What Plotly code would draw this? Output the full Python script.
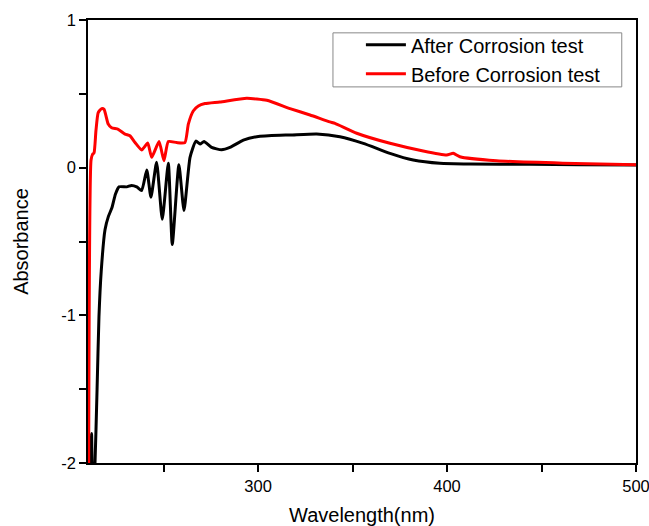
import plotly.graph_objects as go

after_x = [211.2, 211.9, 212.5, 213.6, 214.8, 215.8, 217.0, 219.0, 220.8, 222.7, 224.5, 226.4,
           230.5, 233.1, 235.8, 238.4, 241.1, 243.3, 246.3, 249.3, 252.5, 254.6, 258.1, 260.8,
           264.0, 267.1, 269.3, 271.4, 275.4, 280.7, 285.1, 292.2, 299.3, 311.6, 316.9,
           331.0, 343.3, 355.7, 369.8, 382.1, 396.2, 412.0, 443.9, 470.0, 500.0]
after_y = [-2.3, -1.8, -2.3, -2.05, -1.50, -1.01, -0.70, -0.42, -0.33, -0.27, -0.18, -0.13,
           -0.13, -0.12, -0.13, -0.155, -0.016, -0.20, 0.036, -0.35, 0.03, -0.52, 0.02, -0.29,
           0.07, 0.18, 0.16, 0.177, 0.137, 0.121, 0.137, 0.187, 0.21, 0.22, 0.221,
           0.228, 0.21, 0.165, 0.097, 0.052, 0.03, 0.025, 0.023, 0.02, 0.018]

before_x = [210.3, 211.6, 212.4, 213.2, 214.2, 215.4, 217.2, 218.5, 220.7, 222.5, 226.0, 229.6,
            232.2, 234.9, 238.4, 241.6, 243.7, 247.6, 250.2, 252.5, 256.9, 261.3, 263.1, 265.7,
            268.4, 271.9, 279.8, 294.0, 304.6, 316.9, 327.5, 338.0, 340.7, 352.2, 369.8, 387.4,
            399.8, 403.3, 406.8, 426.2, 461.3, 500.0]
before_y = [-2.3, 0.05, 0.09, 0.10, 0.25, 0.373, 0.40, 0.395, 0.295, 0.27, 0.26, 0.227,
            0.216, 0.17, 0.12, 0.167, 0.07, 0.177, 0.047, 0.177, 0.17, 0.17, 0.295, 0.384,
            0.418, 0.434, 0.445, 0.47, 0.456, 0.40, 0.357, 0.31, 0.30, 0.233, 0.165, 0.113,
            0.086, 0.097, 0.074, 0.047, 0.03, 0.02]

x_ticks = [300, 400, 500]
y_ticks = [-2, -1, 0, 1]

FONT = "Liberation Sans, Arial, sans-serif"

fig = go.Figure()
fig.add_trace(go.Scatter(x=after_x, y=after_y, mode="lines", name="After Corrosion test",
                         line=dict(color="black", width=3, shape="spline", smoothing=0.5)))
fig.add_trace(go.Scatter(x=before_x, y=before_y, mode="lines", name="Before Corrosion test",
                         line=dict(color="#ff0000", width=3, shape="spline", smoothing=0.5)))

axis_common = dict(showgrid=False, zeroline=False, showline=True, linecolor="black", linewidth=1.5,
                   mirror=True, ticks="outside", ticklen=7, tickwidth=1.5, tickcolor="black",
                   automargin=False, ticklabeloverflow="allow",
                   tickfont=dict(family=FONT, size=16.5, color="black"))

fig.update_xaxes(range=[210, 500], tickvals=x_ticks, ticktext=[str(v) for v in x_ticks],
                 minor=dict(dtick=50, tick0=0, ticks="outside", ticklen=7, tickwidth=1.5, tickcolor="black"),
                 title=dict(text="Wavelength(nm)", font=dict(family=FONT, size=20, color="black"), standoff=22),
                 **axis_common)
fig.update_yaxes(range=[-2, 1], tickvals=y_ticks, ticktext=[str(v) for v in y_ticks],
                 minor=dict(dtick=0.5, tick0=0, ticks="outside", ticklen=7, tickwidth=1.5, tickcolor="black"),
                 title=dict(text="Absorbance", font=dict(family=FONT, size=20, color="black"), standoff=27),
                 **axis_common)

# legend frame (drawn separately to get the wider padding of the original)
fig.add_shape(type="rect", xref="paper", yref="paper",
              x0=0.447, x1=0.974, y0=0.849, y1=0.971,
              line=dict(color="#888888", width=1), fillcolor="white", layer="above")

fig.update_layout(
    width=649, height=526,
    margin=dict(l=88, r=13, t=20, b=63, autoexpand=False),
    plot_bgcolor="white", paper_bgcolor="white",
    showlegend=True,
    legend=dict(x=0.498, y=0.988, xanchor="left", yanchor="top",
                borderwidth=0, bgcolor="rgba(0,0,0,0)",
                font=dict(family=FONT, size=20, color="black"),
                tracegroupgap=0, itemwidth=40),
)

fig.write_html("out.html", config={"displayModeBar": False},
               post_script="document.body.style.margin='0';document.body.style.overflow='hidden';")
